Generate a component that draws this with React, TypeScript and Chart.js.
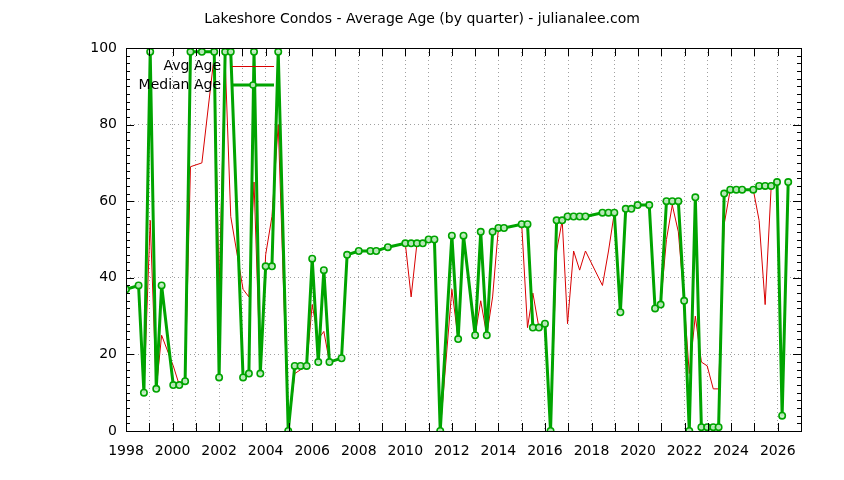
import React, { useEffect, useRef } from "react";
import { Chart, registerables } from "chart.js";

Chart.register(...registerables);

const TITLE = "Lakeshore Condos - Average Age (by quarter) - julianalee.com";
const SERIES_AVG = "Avg Age";
const SERIES_MEDIAN = "Median Age";

const quarters: number[] = [
  1998.0, 1998.54, 1998.77, 1999.04, 1999.3, 1999.53, 2000.03, 2000.29, 2000.54, 2000.77,
  2001.26, 2001.79, 2002.0, 2002.26, 2002.5, 2003.03, 2003.28, 2003.5, 2003.77, 2004.0,
  2004.27, 2004.54, 2004.97, 2005.25, 2005.5, 2005.76, 2006.0, 2006.26, 2006.5, 2006.74,
  2007.26, 2007.5, 2008.0, 2008.5, 2008.75, 2009.25, 2010.0, 2010.25, 2010.5, 2010.75,
  2011.0, 2011.25, 2011.5, 2012.0, 2012.27, 2012.5, 2013.0, 2013.24, 2013.5, 2013.75,
  2014.0, 2014.24, 2015.0, 2015.25, 2015.48, 2015.74, 2016.0, 2016.24, 2016.5, 2016.74,
  2016.97, 2017.23, 2017.49, 2017.74, 2018.47, 2018.73, 2018.98, 2019.24, 2019.47, 2019.71,
  2019.98, 2020.48, 2020.73, 2020.97, 2021.22, 2021.47, 2021.73, 2021.98, 2022.2, 2022.46,
  2022.72, 2022.97, 2023.23, 2023.46, 2023.7, 2023.96, 2024.22, 2024.47, 2024.95, 2025.2,
  2025.46, 2025.72, 2025.97, 2026.19, 2026.45,
];

const medianAge: number[] = [
  37, 38, 10, 99, 11, 38, 12, 12, 13, 99,
  99, 99, 14, 99, 99, 14, 15, 99, 15, 43,
  43, 99, 0, 17, 17, 17, 45, 18, 42, 18,
  19, 46, 47, 47, 47, 48, 49, 49, 49, 49,
  50, 50, 0, 51, 24, 51, 25, 52, 25, 52,
  53, 53, 54, 54, 27, 27, 28, 0, 55, 55,
  56, 56, 56, 56, 57, 57, 57, 31, 58, 58,
  59, 59, 32, 33, 60, 60, 60, 34, 0, 61,
  1, 1, 1, 1, 62, 63, 63, 63, 63, 64,
  64, 64, 65, 4, 65,
];

const avgAge: number[] = [
  37, 38, 10, 55, 11, 25, 17, 12, 13, 69,
  70, 98, 37, 97, 56, 37, 35, 65, 15, 46,
  56, 80, 0, 15, 16, 17, 33, 24, 26, 18,
  19, 46, 47, 47, 47, 48, 49, 35, 49, 49,
  50, 50, 0, 37, 24, 51, 25, 34, 25, 35,
  53, 53, 54, 27, 36, 27, 28, 0, 47, 55,
  28, 47, 42, 47, 38, 47, 57, 31, 58, 58,
  59, 59, 32, 33, 50, 59, 52, 34, 15, 30,
  18, 17, 11, 11, 54, 63, 63, 63, 63, 55,
  33, 64, 65, 4, 65,
];

const X_MIN = 1998;
const X_MAX = 2027;
const X_LABEL_STEP = 2;
const Y_MIN = 0;
const Y_MAX = 100;
const Y_LABEL_STEP = 20;
const Y_MINOR_STEP = 2;

const FONT = "'DejaVu Sans', sans-serif";
const RED = "#d80000";
const GREEN = "#00a400";
const MARKER_FILL = "rgba(200,238,200,0.9)";

export default function App() {
  const ref = useRef<HTMLCanvasElement | null>(null);

  useEffect(() => {
    document.body.style.margin = "0";
    const canvas = ref.current;
    if (!canvas) return;

    const decor = {
      id: "decor",
      afterDraw(chart: any) {
        const { ctx, chartArea: a, scales } = chart;
        const x = scales.x;
        const y = scales.y;
        ctx.save();
        ctx.strokeStyle = "#000";
        ctx.lineWidth = 1;
        ctx.beginPath();
        for (let v = Y_MIN; v <= Y_MAX; v += Y_MINOR_STEP) {
          const py = Math.round(y.getPixelForValue(v)) + 0.5;
          const len = v % Y_LABEL_STEP === 0 ? 8 : 4;
          ctx.moveTo(a.left, py);
          ctx.lineTo(a.left + len, py);
          ctx.moveTo(a.right, py);
          ctx.lineTo(a.right - len, py);
        }
        for (let yr = X_MIN; yr <= X_MAX; yr += 1) {
          const px = Math.round(x.getPixelForValue(yr)) + 0.5;
          ctx.moveTo(px, a.bottom);
          ctx.lineTo(px, a.bottom - 8);
          ctx.moveTo(px, a.top);
          ctx.lineTo(px, a.top + 8);
        }
        ctx.stroke();
        ctx.strokeRect(
          Math.round(a.left) + 0.5,
          Math.round(a.top) + 0.5,
          Math.round(a.right - a.left),
          Math.round(a.bottom - a.top)
        );

        // legend
        ctx.font = `14px ${FONT}`;
        ctx.fillStyle = "#000";
        ctx.textAlign = "right";
        ctx.textBaseline = "middle";
        const lx = a.left + 95;
        const ly1 = a.top + 18;
        const ly2 = a.top + 37;
        ctx.fillText(SERIES_AVG, lx, ly1);
        ctx.fillText(SERIES_MEDIAN, lx, ly2);
        ctx.beginPath();
        ctx.strokeStyle = RED;
        ctx.lineWidth = 1;
        ctx.moveTo(lx + 11, ly1 + 0.5);
        ctx.lineTo(lx + 53, ly1 + 0.5);
        ctx.stroke();
        ctx.beginPath();
        ctx.strokeStyle = GREEN;
        ctx.lineWidth = 3;
        ctx.moveTo(lx + 11, ly2);
        ctx.lineTo(lx + 53, ly2);
        ctx.stroke();
        ctx.beginPath();
        ctx.lineWidth = 1.5;
        ctx.fillStyle = MARKER_FILL;
        ctx.arc(lx + 32, ly2, 3, 0, Math.PI * 2);
        ctx.fill();
        ctx.stroke();

        // title
        ctx.fillStyle = "#000";
        ctx.textAlign = "center";
        ctx.font = `14px ${FONT}`;
        ctx.fillText(TITLE, chart.width / 2, 19);
        ctx.restore();
      },
    };

    const chart = new Chart(canvas, {
      type: "line",
      data: {
        datasets: [
          {
            label: SERIES_MEDIAN,
            data: quarters.map((q, i) => ({ x: q, y: medianAge[i] })),
            borderColor: GREEN,
            borderWidth: 3,
            pointRadius: 3.2,
            pointBorderWidth: 1.6,
            pointBorderColor: GREEN,
            pointBackgroundColor: MARKER_FILL,
            tension: 0,
            order: 0,
          },
          {
            label: SERIES_AVG,
            data: quarters.map((q, i) => ({ x: q, y: avgAge[i] })),
            borderColor: RED,
            borderWidth: 1,
            pointRadius: 0,
            tension: 0,
            order: 1,
          },
        ],
      },
      options: {
        animation: false,
        responsive: true,
        maintainAspectRatio: false,
        devicePixelRatio: 1,
        layout: { padding: { top: 48, right: 43, left: 0, bottom: 0 } },
        plugins: {
          legend: { display: false },
          title: { display: false },
          tooltip: { enabled: false },
        },
        scales: {
          x: {
            type: "linear",
            min: X_MIN,
            max: X_MAX,
            afterFit(scale: any) {
              scale.height = 49;
            },
            ticks: {
              stepSize: 1,
              autoSkip: false,
              maxRotation: 0,
              padding: 12,
              color: "#000",
              font: { family: FONT, size: 14 },
              callback: (v: any) => (Number(v) % X_LABEL_STEP === 0 ? String(v) : ""),
            },
            grid: { color: "#a0a0a0", drawTicks: false, lineWidth: 1 },
            border: { display: false, dash: [1, 3] },
          },
          y: {
            min: Y_MIN,
            max: Y_MAX,
            afterFit(scale: any) {
              scale.width = 126;
            },
            ticks: {
              stepSize: Y_LABEL_STEP,
              padding: 9,
              color: "#000",
              font: { family: FONT, size: 14 },
            },
            grid: { color: "#a0a0a0", drawTicks: false, lineWidth: 1 },
            border: { display: false, dash: [1, 3] },
          },
        },
      },
      plugins: [decor],
    });

    return () => chart.destroy();
  }, []);

  return (
    <div style={{ position: "absolute", left: 0, top: 0, width: 844, height: 480, background: "#fff" }}>
      <canvas ref={ref} />
    </div>
  );
}
